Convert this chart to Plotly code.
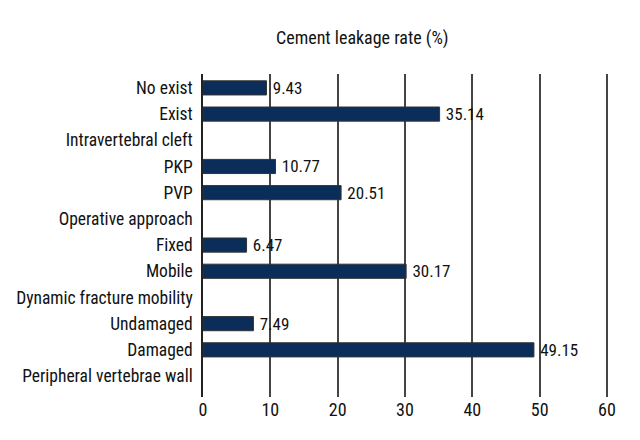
import plotly.graph_objects as go

categories = ["No exist", "Exist", "Intravertebral cleft", "PKP", "PVP",
              "Operative approach", "Fixed", "Mobile", "Dynamic fracture mobility",
              "Undamaged", "Damaged", "Peripheral vertebrae wall"]
values = [9.43, 35.14, None, 10.77, 20.51, None, 6.47, 30.17, None, 7.49, 49.15, None]
labels = ["9.43", "35.14", "", "10.77", "20.51", "", "6.47", "30.17", "", "7.49", "49.15", ""]
x_ticks = [0, 10, 20, 30, 40, 50, 60]

FONT = "Liberation Sans Narrow, Roboto Condensed, Arial Narrow, sans-serif"

fig = go.Figure(go.Bar(
    y=categories, x=values, orientation="h",
    marker=dict(color="#0b2d59", line=dict(color="#333333", width=1)),
    width=0.54,
    text=["\u2009" + t if t else "" for t in labels],
    textposition="outside", constraintext="none",
    textfont=dict(size=17, color="#111111", family=FONT),
    cliponaxis=False,
))

# page has an 8px body margin, so figure coords = page coords - 8
L, R, T, B = 195, 39, 66, 51
fig.update_layout(
    width=640, height=440,
    margin=dict(l=L, r=R, t=T, b=B, autoexpand=False),
    paper_bgcolor="white", plot_bgcolor="white",
    font=dict(family=FONT, size=16, color="#111111"),
    showlegend=False,
    uniformtext=dict(minsize=17, mode="show"),
)
fig.add_annotation(text="Cement leakage rate (%)", xref="paper", yref="paper",
                   x=(354 - L) / (640 - L - R), y=1 + (T - 30) / (440 - T - B),
                   xanchor="center", yanchor="middle", showarrow=False,
                   font=dict(size=18, family=FONT, color="#111111"))

fig.update_xaxes(range=[0, 60.3], tickvals=x_ticks, showgrid=True, gridcolor="#444444",
                 gridwidth=1.5, zeroline=False, showline=False, ticks="",
                 tickfont=dict(size=18), automargin=False)
fig.update_yaxes(categoryorder="array", categoryarray=categories,
                 range=[11.8, -0.53], showline=True, linecolor="#222222", linewidth=1.5,
                 ticks="", ticklabelstandoff=5, showgrid=False, automargin=False,
                 tickfont=dict(size=17.5))

fig.write_html("out.html")
